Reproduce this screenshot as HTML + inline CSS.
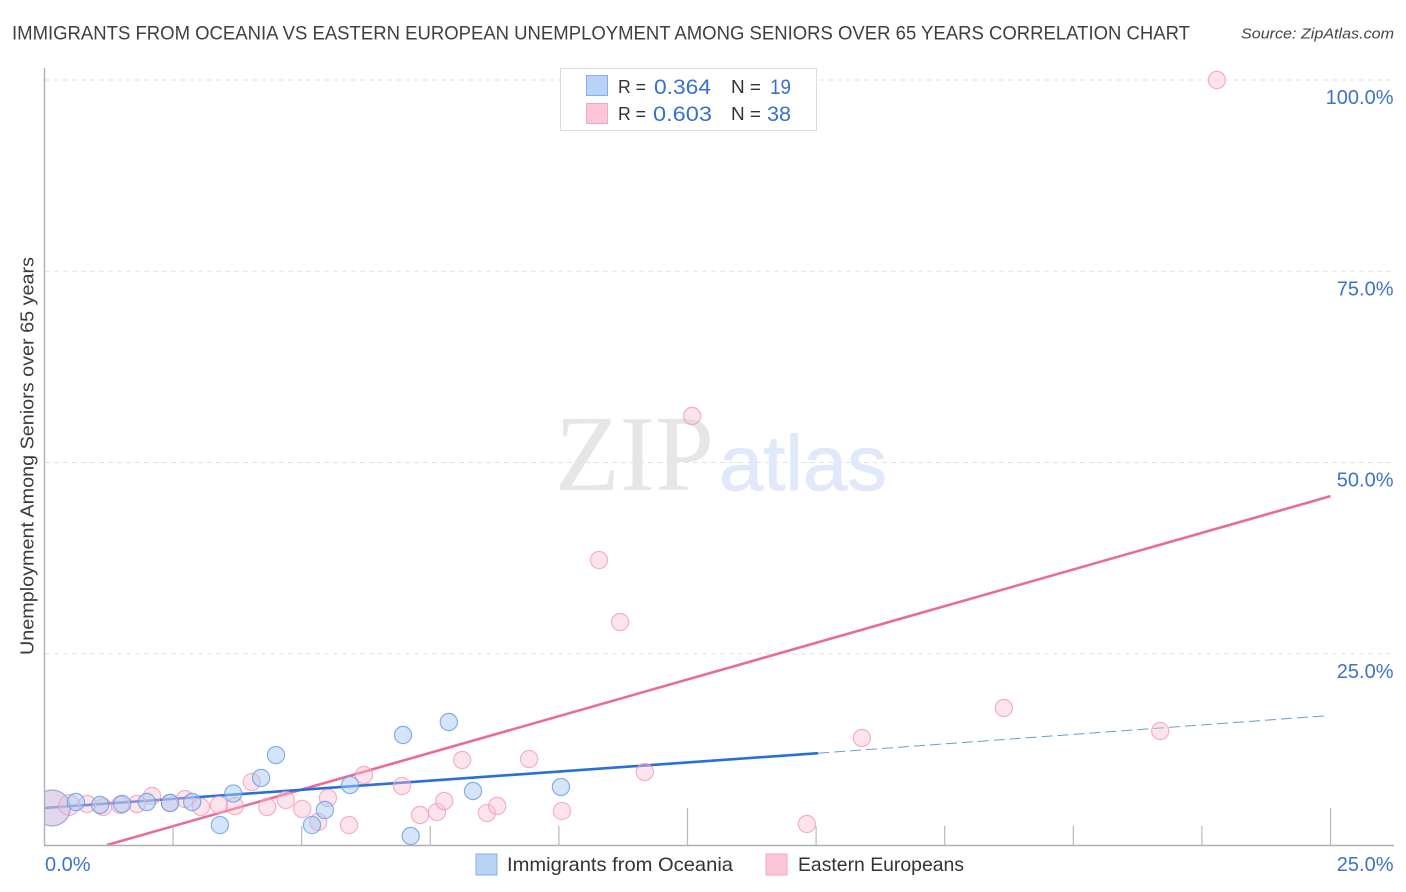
<!DOCTYPE html>
<html lang="en">
<head>
<meta charset="utf-8">
<title>Immigrants from Oceania vs Eastern European Unemployment Correlation Chart</title>
<style>
html,body{margin:0;padding:0;background:#fff;}
svg{display:block;font-family:"Liberation Sans",sans-serif;}
</style>
</head>
<body>
<svg id="chart" width="1406" height="892" viewBox="0 0 1406 892" xmlns="http://www.w3.org/2000/svg">
  <defs>
    <clipPath id="plot-clip" clipPathUnits="userSpaceOnUse"><rect x="45" y="60" width="1349" height="785"/></clipPath>
  </defs>
  <rect x="0" y="0" width="1406" height="892" fill="#ffffff"/>
  <text x="12" y="39.5" font-size="19.5" fill="#3c4046" textLength="1178" lengthAdjust="spacingAndGlyphs">IMMIGRANTS FROM OCEANIA VS EASTERN EUROPEAN UNEMPLOYMENT AMONG SENIORS OVER 65 YEARS CORRELATION CHART</text>
  <text x="1241" y="38.5" font-size="15" font-style="italic" fill="#444" textLength="153" lengthAdjust="spacingAndGlyphs">Source: ZipAtlas.com</text>
  <g id="grid-layer"></g>
  <g>
    <text x="555" y="490" font-family="'Liberation Serif',serif" font-size="108" fill="#e6e6e6" textLength="159" lengthAdjust="spacingAndGlyphs">ZIP</text>
    <text x="719" y="490" font-size="78" fill="#dfe9f9" stroke="#dfe9f9" stroke-width="0.8" textLength="168" lengthAdjust="spacingAndGlyphs">atlas</text>
  </g>
  <g id="marks-layer" clip-path="url(#plot-clip)"></g>
  <g id="axis-layer">
    <rect x="0" y="770" width="44.5" height="75" fill="#ffffff"/>
  </g>
  <text transform="translate(33.5,456) rotate(-90)" text-anchor="middle" font-size="18.5" fill="#3a3a3a" textLength="398" lengthAdjust="spacingAndGlyphs">Unemployment Among Seniors over 65 years</text>

  <g>
    <rect x="560.5" y="68.5" width="256" height="62" fill="#fff" stroke="#dcdcdc" stroke-width="1"/>
    <rect x="586.5" y="75.5" width="21" height="20" fill="#b9d3f7" stroke="#7fb0ea" stroke-width="1"/>
    <rect x="586.5" y="103.5" width="21" height="20" fill="#fcc6d8" stroke="#f3a6bf" stroke-width="1"/>
    <text x="618" y="93" font-size="18" fill="#333" textLength="28" lengthAdjust="spacingAndGlyphs">R =</text>
    <text x="654" y="94" font-size="21" fill="#3571d0" textLength="57" lengthAdjust="spacingAndGlyphs">0.364</text>
    <text x="731" y="93" font-size="18" fill="#333" textLength="30" lengthAdjust="spacingAndGlyphs">N =</text>
    <text x="770" y="94" font-size="21" fill="#3571d0" textLength="21" lengthAdjust="spacingAndGlyphs">19</text>
    <text x="618" y="120" font-size="18" fill="#333" textLength="28" lengthAdjust="spacingAndGlyphs">R =</text>
    <text x="653" y="121" font-size="21" fill="#3571d0" textLength="59" lengthAdjust="spacingAndGlyphs">0.603</text>
    <text x="731" y="120" font-size="18" fill="#333" textLength="30" lengthAdjust="spacingAndGlyphs">N =</text>
    <text x="767" y="121" font-size="21" fill="#3571d0" textLength="24" lengthAdjust="spacingAndGlyphs">38</text>
  </g>

  <g>
    <rect x="476" y="854" width="21" height="21" fill="#b9d3f7" stroke="#7fb0ea" stroke-width="1"/>
    <text x="507" y="871" font-size="19.5" fill="#333" textLength="226" lengthAdjust="spacingAndGlyphs">Immigrants from Oceania</text>
    <rect x="766" y="854" width="21" height="21" fill="#fcc6d8" stroke="#f3a6bf" stroke-width="1"/>
    <text x="798" y="871" font-size="19.5" fill="#333" textLength="166" lengthAdjust="spacingAndGlyphs">Eastern Europeans</text>
  </g>
</svg>
<script>
const yTickValues = [25, 50, 75, 100];
const yTickLabels = ["25.0%", "50.0%", "75.0%", "100.0%"];
const xMinorTickValues = [2.5, 5, 7.5, 10, 15, 17.5, 20, 22.5];
const xMajorTickValues = [12.5, 25];
const xTickLabels = ["0.0%", "25.0%"];

const oceaniaX = [0.15, 0.61, 1.08, 1.51, 1.99, 2.44, 2.87, 3.41, 3.67, 4.21, 4.50, 5.20, 5.45, 5.94, 6.97, 7.86, 8.33, 10.04, 7.12];
const oceaniaY = [4.84, 5.62, 5.23, 5.36, 5.62, 5.49, 5.62, 2.61, 6.73, 8.76, 11.76, 2.61, 4.58, 7.84, 14.38, 16.08, 7.06, 7.58, 1.18];

const easternX = [0.15, 0.48, 0.83, 1.14, 1.47, 1.80, 2.09, 2.44, 2.73, 3.04, 3.39, 3.70, 4.03, 4.33, 4.69, 5.01, 5.32, 5.51, 5.92, 6.21, 6.95, 7.30, 7.63, 7.77, 8.12, 8.60, 8.80, 9.42, 10.06, 10.78, 11.19, 11.67, 12.59, 14.82, 15.89, 18.65, 21.69, 22.79];
const easternY = [4.84, 5.23, 5.36, 4.97, 5.23, 5.36, 6.41, 5.49, 6.01, 4.97, 5.23, 5.10, 8.24, 4.97, 5.88, 4.71, 3.01, 6.14, 2.61, 9.15, 7.71, 3.92, 4.31, 5.75, 11.11, 4.18, 5.10, 11.24, 4.44, 37.25, 29.15, 9.54, 56.08, 2.75, 13.99, 17.91, 14.90, 100];

const oceaniaTrendX = [0, 15.04];
const oceaniaTrendY = [4.84, 12.0];
const oceaniaForecastX = [15.04, 24.93];
const oceaniaForecastY = [12.0, 16.9];
const easternTrendX = [1.215, 25];
const easternTrendY = [0, 45.6];

const NS = 'http://www.w3.org/2000/svg';
const xScale = v => 44.5 + v * 51.44;
const yScale = v => 845 - v * 7.65;

function svgEl(tag, attrs, parent, text) {
  const el = document.createElementNS(NS, tag);
  for (const k in attrs) el.setAttribute(k, attrs[k]);
  if (text !== undefined) el.textContent = text;
  parent.appendChild(el);
  return el;
}

const gridLayer = document.getElementById('grid-layer');
const marksLayer = document.getElementById('marks-layer');
const axisLayer = document.getElementById('axis-layer');

yTickValues.forEach((v, i) => {
  const line = svgEl('line', {x1: 45, x2: 1394, y1: yScale(v), y2: yScale(v), stroke: '#e2e2e2', 'stroke-width': 1, 'stroke-dasharray': '5 4'}, gridLayer);
  
  
  const label = svgEl('text', {x: 1393.5, y: yScale(v) + 24, 'text-anchor': 'end', 'font-size': 20, fill: '#3e72cf'}, axisLayer, yTickLabels[i]);
  
  
});

function drawPoints(xs, ys, fill, stroke, fillOpacity, largeOpacity, secondRadius, name) {
  xs.forEach((x, i) => {
    const r = i === 0 ? 18 : (i === 1 ? secondRadius : 8.6);
    const c = svgEl('circle', {cx: xScale(x), cy: yScale(ys[i]), r: r, fill: fill, 'fill-opacity': i === 0 ? largeOpacity : fillOpacity, stroke: stroke, 'stroke-width': 1.2, 'stroke-opacity': i === 0 ? 0.55 : 0.75}, marksLayer);
    
    
  });
}

function drawLine(xs, ys, stroke, width, dash, name) {
  const l = svgEl('line', {x1: xScale(xs[0]), y1: yScale(ys[0]), x2: xScale(xs[1]), y2: yScale(ys[1]), stroke: stroke, 'stroke-width': width}, marksLayer);
  if (dash) l.setAttribute('stroke-dasharray', dash);
  
  
}

drawLine(easternTrendX, easternTrendY, '#e96b9b', 2.6, null, 'trendline-eastern');
drawLine(oceaniaTrendX, oceaniaTrendY, '#2a6fd6', 2.6, null, 'trendline-oceania');
drawLine(oceaniaForecastX, oceaniaForecastY, '#6a9bd8', 1, '11 5', 'trendline-oceania-forecast');
drawPoints(easternX, easternY, '#fbbdd0', '#f09ab6', 0.42, 0.5, 10.4, 'point-eastern');
drawPoints(oceaniaX, oceaniaY, '#a9c9f3', '#5e9be2', 0.5, 0.32, 8.6, 'point-oceania');

const yAxis = svgEl('line', {x1: 44.5, x2: 44.5, y1: 68, y2: 845.5, stroke: '#b0b0b0', 'stroke-width': 1.4}, axisLayer);


const xAxis = svgEl('line', {x1: 44, x2: 1394, y1: 845.5, y2: 845.5, stroke: '#b0b0b0', 'stroke-width': 1.4}, axisLayer);



xMinorTickValues.forEach(v => {
  const t = svgEl('line', {x1: xScale(v), x2: xScale(v), y1: 826, y2: 845, stroke: '#b8b8b8', 'stroke-width': 1.2}, axisLayer);
  
  
});
xMajorTickValues.forEach(v => {
  const t = svgEl('line', {x1: xScale(v), x2: xScale(v), y1: 808, y2: 845, stroke: '#b8b8b8', 'stroke-width': 1.2}, axisLayer);
  
  
});

const xLabelStart = svgEl('text', {x: 45, y: 871, 'font-size': 20, fill: '#3e72cf'}, axisLayer, xTickLabels[0]);


const xLabelEnd = svgEl('text', {x: 1393.5, y: 871, 'text-anchor': 'end', 'font-size': 20, fill: '#3e72cf'}, axisLayer, xTickLabels[1]);


</script>
</body>
</html>
